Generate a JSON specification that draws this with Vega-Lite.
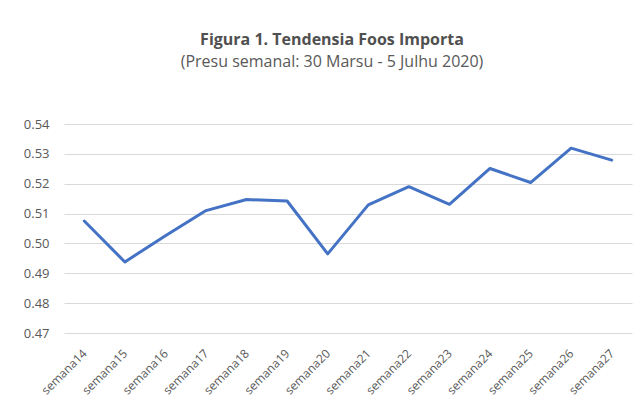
{
  "$schema": "https://vega.github.io/schema/vega-lite/v6.json",
  "autosize": {"type": "none"},
  "width": 568,
  "height": 209,
  "padding": {"left": 64, "top": 124, "right": 7, "bottom": 84},
  "background": "white",
  "title": {
    "text": "Figura 1. Tendensia Foos Importa",
    "subtitle": "(Presu semanal: 30 Marsu - 5 Julhu  2020)",
    "anchor": "middle",
    "dx": -16,
    "font": "Open Sans",
    "fontSize": 16,
    "fontWeight": "bold",
    "color": "#505050",
    "subtitleFont": "Open Sans",
    "subtitleFontSize": 16,
    "subtitleColor": "#595959",
    "subtitlePadding": 6,
    "offset": 48
  },
  "data": {
    "values": [
      {"semana": "semana14", "valor": 0.5075},
      {"semana": "semana15", "valor": 0.4938},
      {"semana": "semana16", "valor": 0.5026},
      {"semana": "semana17", "valor": 0.5110},
      {"semana": "semana18", "valor": 0.5147},
      {"semana": "semana19", "valor": 0.5142},
      {"semana": "semana20", "valor": 0.4965},
      {"semana": "semana21", "valor": 0.5129},
      {"semana": "semana22", "valor": 0.5190},
      {"semana": "semana23", "valor": 0.5131},
      {"semana": "semana24", "valor": 0.5251},
      {"semana": "semana25", "valor": 0.5204},
      {"semana": "semana26", "valor": 0.5319},
      {"semana": "semana27", "valor": 0.5279}
    ]
  },
  "mark": {"type": "line", "color": "#4472C4", "strokeWidth": 3, "strokeJoin": "round", "strokeCap": "round"},
  "encoding": {
    "x": {
      "field": "semana",
      "type": "ordinal",
      "scale": {"type": "point", "padding": 0.5},
      "axis": {
        "title": null,
        "domain": false,
        "ticks": false,
        "labelAngle": -45,
        "labelAlign": "right",
        "labelBaseline": "middle",
        "labelPadding": 18,
        "labelFont": "Open Sans",
        "labelFontSize": 12,
        "labelColor": "#595959"
      }
    },
    "y": {
      "field": "valor",
      "type": "quantitative",
      "scale": {"domain": [0.47, 0.54], "zero": false, "nice": false},
      "axis": {
        "title": null,
        "domain": false,
        "ticks": false,
        "values": [0.47, 0.48, 0.49, 0.5, 0.51, 0.52, 0.53, 0.54],
        "format": ".2f",
        "grid": true,
        "gridColor": "#D9D9D9",
        "gridWidth": 1,
        "labelPadding": 15,
        "labelFont": "Open Sans",
        "labelFontSize": 13,
        "labelColor": "#595959"
      }
    }
  },
  "config": {"view": {"stroke": null}}
}
